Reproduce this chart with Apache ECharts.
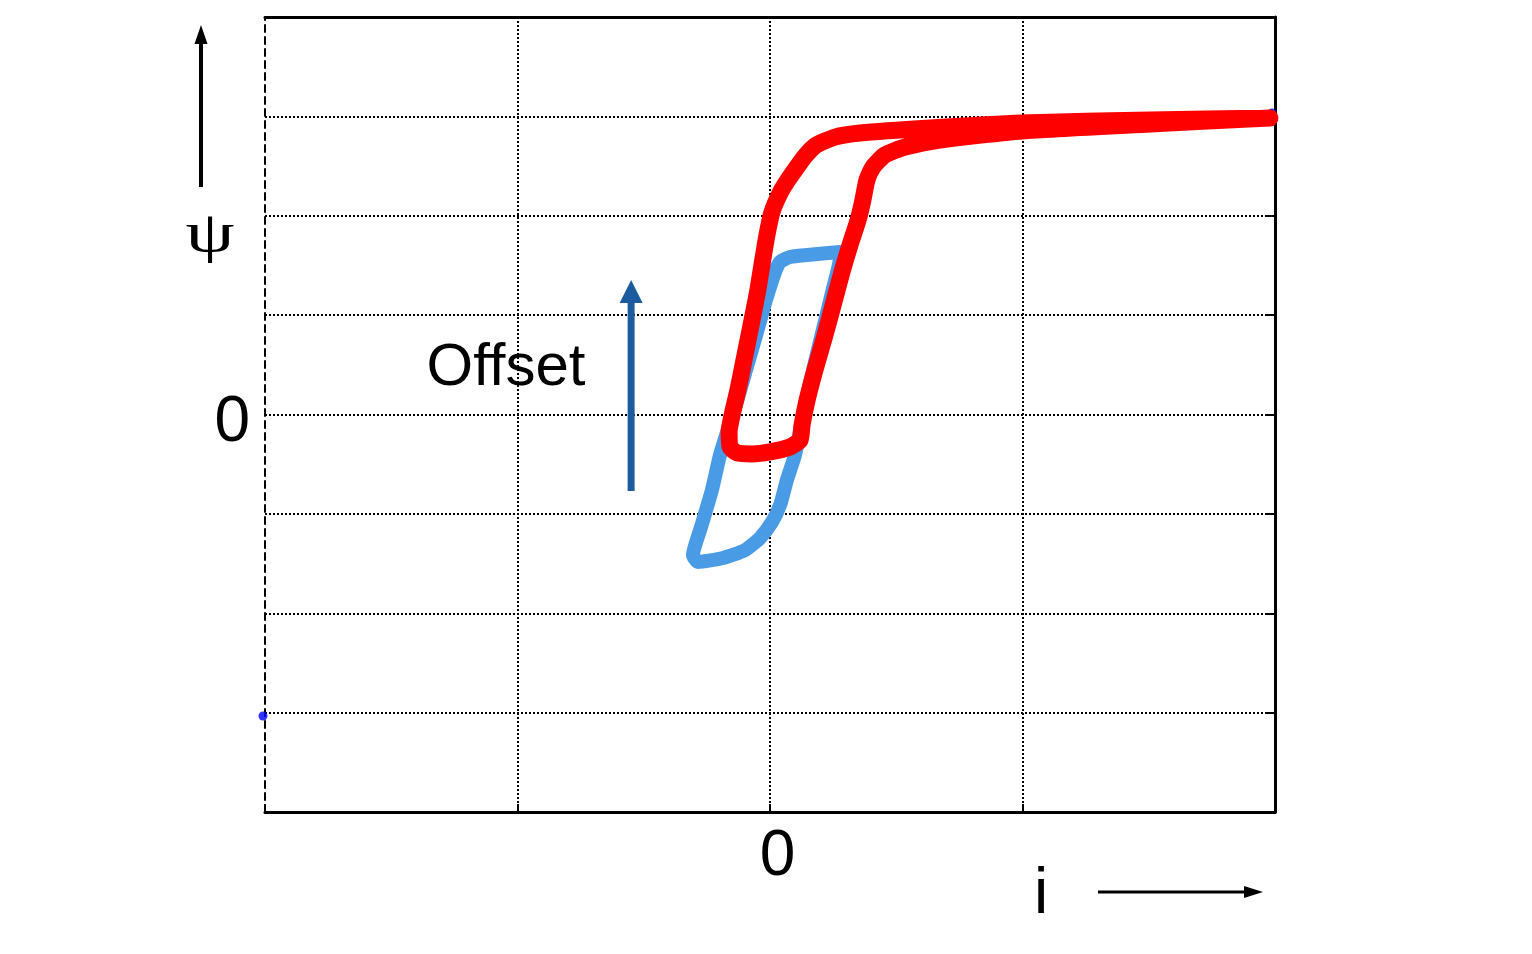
<!DOCTYPE html>
<html>
<head>
<meta charset="utf-8">
<script src="https://cdn.jsdelivr.net/npm/echarts@6/dist/echarts.min.js"></script>
<style>
html,body{margin:0;padding:0;background:#fff;}
#chart{width:1532px;height:954px;}
</style>
</head>
<body>
<div id="chart"></div>
<script>
// Axis ranges / tick labels
const xRange = [-2, 2];
const yRange = [-4, 4];
const xLabelValues = [0];
const yLabelValues = [0];

// Blue loop (i, psi) before offset
const blueI   = [0.277,0.147,0.079,0.040,0.020,-0.016,-0.055,-0.095,-0.135,-0.170,-0.198,-0.230,-0.273,-0.305,-0.285,-0.186,-0.099,-0.040,0.008,0.040,0.067,0.099,0.119,0.143,0.178,0.222,0.253,0.277,0.277];
const bluePsi = [1.635,1.605,1.585,1.535,1.434,1.152,0.800,0.448,0.096,-0.176,-0.408,-0.760,-1.132,-1.414,-1.484,-1.444,-1.364,-1.243,-1.082,-0.911,-0.659,-0.408,-0.156,0.146,0.528,0.981,1.303,1.575,1.635];

// Red loop (i, psi) with offset, saturating to the right
const redI   = [1.980,1.505,0.998,0.634,0.356,0.257,0.178,0.139,0.107,0.071,0.040,0.008,-0.012,-0.032,-0.048,-0.071,-0.099,-0.127,-0.150,-0.162,-0.158,-0.131,-0.071,0.000,0.079,0.119,0.127,0.147,0.178,0.218,0.250,0.285,0.317,0.349,0.368,0.384,0.408,0.455,0.535,0.673,0.998,1.505,1.980];
const redPsi = [2.984,2.964,2.933,2.883,2.833,2.792,2.702,2.601,2.491,2.360,2.229,2.038,1.806,1.504,1.253,0.951,0.599,0.247,-0.005,-0.176,-0.327,-0.387,-0.397,-0.377,-0.327,-0.257,-0.106,0.146,0.448,0.800,1.102,1.434,1.706,1.957,2.158,2.360,2.491,2.611,2.692,2.762,2.853,2.923,2.984];

// Small blue end dots
const dotI   = [1.988, -2.008];
const dotPsi = [3.034, -3.034];

// Offset arrow (data coords)
const offsetArrowI = -0.55;
const offsetArrowPsi = [-0.77, 1.353];

const zip = (a, b) => a.map((v, k) => [v, b[k]]);

const chart = echarts.init(document.getElementById('chart'), null, {renderer: 'canvas'});

const dotted = {type: [2, 2], color: '#000', width: 2};

const option = {
  animation: false,
  backgroundColor: '#fff',
  grid: {left: 265, right: 257, top: 17, bottom: 142, containLabel: false},
  xAxis: [{
    type: 'value', min: xRange[0], max: xRange[1], interval: 1, position: 'bottom',
    axisLine: {show: true, onZero: false, lineStyle: {color: '#000', width: 3}},
    axisTick: {show: true, inside: true, length: 8, lineStyle: {color: '#000', width: 2}},
    axisLabel: {
      show: true, margin: 13, color: '#000', fontSize: 64, fontFamily: 'Liberation Sans, Arial, sans-serif',
      padding: [0, 0, 0, 15],
      formatter: v => xLabelValues.includes(v) ? String(v) : ''
    },
    splitLine: {show: true, showMinLine: false, showMaxLine: false, lineStyle: dotted}
  }, {
    type: 'value', min: xRange[0], max: xRange[1], position: 'top',
    axisLine: {show: true, onZero: false, lineStyle: {color: '#000', width: 3}},
    axisTick: {show: false}, axisLabel: {show: false}, splitLine: {show: false}
  }],
  yAxis: [{
    type: 'value', min: yRange[0], max: yRange[1], interval: 1, position: 'left',
    axisLine: {show: true, onZero: false, lineStyle: {color: '#000', width: 2, type: [7, 5]}},
    axisTick: {show: false},
    axisLabel: {
      show: true, margin: 15, color: '#000', fontSize: 64, fontFamily: 'Liberation Sans, Arial, sans-serif',
      verticalAlign: 'top', lineHeight: 17,
      formatter: v => yLabelValues.includes(v) ? String(v) : ''
    },
    splitLine: {show: true, showMinLine: false, showMaxLine: false, lineStyle: dotted}
  }, {
    type: 'value', min: yRange[0], max: yRange[1], interval: 1, position: 'right',
    axisLine: {show: true, onZero: false, lineStyle: {color: '#000', width: 3}},
    axisTick: {show: true, inside: true, length: 9, lineStyle: {color: '#000', width: 2}},
    axisLabel: {show: false}, splitLine: {show: false}
  }],
  series: [{
    name: 'dots', type: 'scatter', data: zip(dotI, dotPsi), symbolSize: 9,
    itemStyle: {color: '#0000ff'}, clip: false, silent: true, z: 2
  }, {
    name: 'blue', type: 'line', data: zip(blueI, bluePsi), showSymbol: false, symbol: 'none',
    smooth: 0.2, clip: false,
    lineStyle: {color: '#4a9be6', width: 14, cap: 'round', join: 'round'}, z: 3
  }, {
    name: 'red', type: 'line', data: zip(redI, redPsi), showSymbol: false, symbol: 'none',
    smooth: 0.2, clip: false,
    lineStyle: {color: '#ff0000', width: 17, cap: 'round', join: 'round'}, z: 4
  }]
};

chart.setOption(option);

// Offset arrow from data coords
const a0 = chart.convertToPixel({xAxisIndex: 0, yAxisIndex: 0}, [offsetArrowI, offsetArrowPsi[0]]);
const a1 = chart.convertToPixel({xAxisIndex: 0, yAxisIndex: 0}, [offsetArrowI, offsetArrowPsi[1]]);
const headLen = 23, headHalf = 11.5;

chart.setOption({
  graphic: [
    // offset arrow
    {type: 'line', shape: {x1: a0[0], y1: a0[1], x2: a1[0], y2: a1[1] + headLen - 2},
     style: {stroke: '#1c5c9e', lineWidth: 7}, z: 10},
    {type: 'polygon', shape: {points: [[a1[0], a1[1]], [a1[0] - headHalf, a1[1] + headLen], [a1[0] + headHalf, a1[1] + headLen]]},
     style: {fill: '#1c5c9e'}, z: 10},
    {type: 'text', style: {text: 'Offset', x: 506, y: 368, align: 'center', verticalAlign: 'middle',
      font: '60px "Liberation Sans", Arial, sans-serif', fill: '#000'}, z: 10},
    // psi axis arrow
    {type: 'line', shape: {x1: 201, y1: 187, x2: 201, y2: 42}, style: {stroke: '#000', lineWidth: 4}},
    {type: 'polygon', shape: {points: [[201, 25], [194.5, 44], [207.5, 44]]}, style: {fill: '#000'}},
    {type: 'text', x: 210, y: 236, scaleX: 1.35, style: {text: 'ψ', x: 0, y: 0, align: 'center', verticalAlign: 'middle',
      font: '58px "Liberation Serif", "Times New Roman", serif', fill: '#000'}},
    // i axis arrow
    {type: 'line', shape: {x1: 1098, y1: 892, x2: 1246, y2: 892}, style: {stroke: '#000', lineWidth: 3}},
    {type: 'polygon', shape: {points: [[1263, 892], [1244, 886], [1244, 898]]}, style: {fill: '#000'}},
    {type: 'text', style: {text: 'i', x: 1041, y: 895, align: 'center', verticalAlign: 'middle',
      font: '64px "Liberation Sans", Arial, sans-serif', fill: '#000'}}
  ]
});
</script>
</body>
</html>
